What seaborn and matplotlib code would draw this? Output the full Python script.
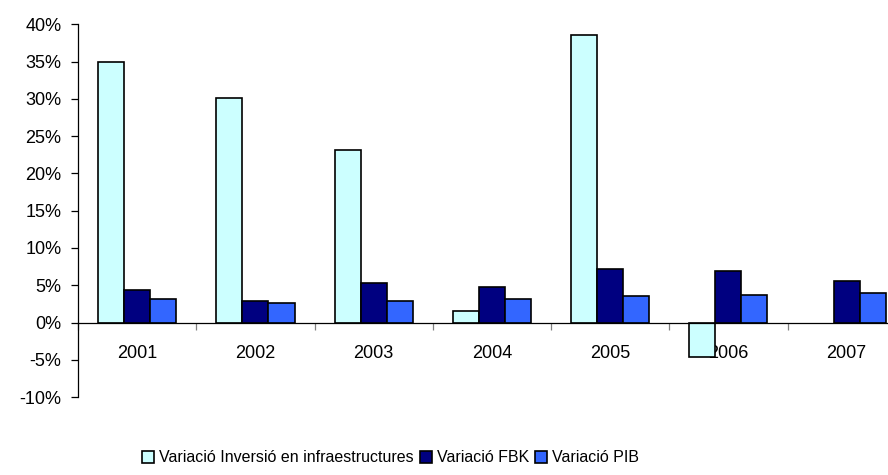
import numpy as np
import pandas as pd
import matplotlib.pyplot as plt
import seaborn as sns
from matplotlib.ticker import FuncFormatter, MultipleLocator

years = ["2001", "2002", "2003", "2004", "2005", "2006", "2007"]
inversio = [34.9, 30.1, 23.2, 1.6, 38.5, -4.6, np.nan]
fbk = [4.3, 2.95, 5.3, 4.8, 7.2, 6.9, 5.6]
pib = [3.2, 2.6, 2.9, 3.2, 3.5, 3.7, 3.9]

series_names = ["Variació Inversió en infraestructures", "Variació FBK", "Variació PIB"]
colors = ["#CCFFFF", "#000080", "#3366FF"]

df = pd.DataFrame({
    "year": years * 3,
    "serie": [series_names[0]] * 7 + [series_names[1]] * 7 + [series_names[2]] * 7,
    "value": inversio + fbk + pib,
})

sns.set_style("white")
plt.rcParams['font.family'] = ['Liberation Sans', 'DejaVu Sans']
plt.rcParams['text.color'] = 'black'
plt.rcParams['xtick.color'] = 'black'
plt.rcParams['ytick.color'] = 'black'

fig = plt.figure(figsize=(8.88, 4.75), dpi=100)
ax = fig.add_axes([0.088, 0.164, 0.932, 0.785])

sns.barplot(data=df, x="year", y="value", hue="serie", palette=colors,
            saturation=1, width=0.66, edgecolor="black", linewidth=1.2,
            ax=ax, legend=True)

ax.set_ylim(-10, 40)
ax.set_xlim(-0.5, 6.5)
ax.yaxis.set_major_locator(MultipleLocator(5))
ax.yaxis.set_major_formatter(FuncFormatter(lambda v, p: f"{v:.0f}%"))
ax.set_xlabel("")
ax.set_ylabel("")

for s in ["top", "right"]:
    ax.spines[s].set_visible(False)
ax.spines["bottom"].set_position(("data", 0))
ax.spines["bottom"].set_color("black")
ax.spines["left"].set_color("black")
ax.spines["bottom"].set_linewidth(0.9)
ax.spines["left"].set_linewidth(0.9)

ax.tick_params(axis="y", direction="out", length=5, width=0.9, color="black",
               labelcolor="black", labelsize=13, pad=7, left=True)
ax.tick_params(axis="x", which="major", length=0, labelsize=13,
               labelcolor="black", pad=16)
ax.set_xticks(np.arange(-0.5, 7, 1), minor=True)
ax.tick_params(axis="x", which="minor", direction="out", length=5, width=0.9,
               color="gray", bottom=True)

handles, labels = ax.get_legend_handles_labels()
ax.get_legend().remove()
fig.legend(handles, labels, loc="center", bbox_to_anchor=(0.44, 0.036), ncol=3,
           frameon=False, fontsize=11.5, handlelength=0.75, handleheight=0.75,
           handletextpad=0.3, columnspacing=0.4)

fig.savefig("out.png", dpi=100)
